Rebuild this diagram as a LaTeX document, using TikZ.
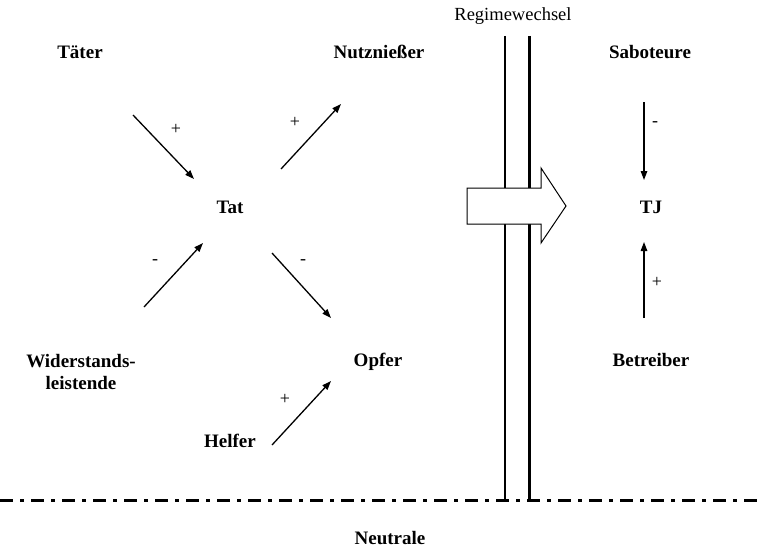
\documentclass[tikz,border=0pt]{standalone}
\usepackage{fontspec}
\setmainfont{Liberation Serif}
\usetikzlibrary{arrows.meta}
\tikzset{lbl/.style={font=\fontsize{19}{22}\selectfont\bfseries,align=center,inner sep=0pt},
sgn/.style={font=\fontsize{18}{20}\selectfont,inner sep=0pt},
arr/.style={line width=1.3pt,-{Triangle[length=9pt,width=6.5pt]}}}
\begin{document}
\begin{tikzpicture}[x=1pt,y=-1pt]
\useasboundingbox(0,0)rectangle(762,551);
\node[lbl](taeter)at(80,52){Täter};\node[lbl](nutz)at(379,52){Nutznießer};\node[lbl](sab)at(650,52){Saboteure};
\node[lbl](tat)at(230,207){Tat};\node[lbl](tj)at(651,207){TJ};
\node[lbl](wid)at(81,372){Widerstands-\\leistende};\node[lbl](opfer)at(378,362){Opfer};\node[lbl](betr)at(651,360){Betreiber};
\node[lbl](helfer)at(230,441){Helfer};\node[lbl](neutr)at(390,538){Neutrale};
\node[sgn](regime)at(513,16){\fontsize{18.5}{20}\selectfont\mdseries Regimewechsel};
% Pfeile um die Tat
\coordinate(a1)at(133,115);\coordinate(b1)at(194,179);\draw[arr](a1)--(b1);\node[sgn](s1)at(176,129){+};
\coordinate(a2)at(281,169);\coordinate(b2)at(341,104);\draw[arr](a2)--(b2);\node[sgn](s2)at(295,122){+};
\coordinate(a3)at(144,307);\coordinate(b3)at(203,243);\draw[arr](a3)--(b3);\node[sgn](s3)at(155,262){-};
\coordinate(a4)at(272,253);\coordinate(b4)at(331,318);\draw[arr](a4)--(b4);\node[sgn](s4)at(303,262){-};
\coordinate(a5)at(272,445);\coordinate(b5)at(331,381);\draw[arr](a5)--(b5);\node[sgn](s5)at(285,399){+};
\coordinate(a6)at(644,102);\coordinate(b6)at(644,180);\draw[arr](a6)--(b6);\node[sgn](s6)at(655,124){-};
\coordinate(a7)at(644,318);\coordinate(b7)at(644,242);\draw[arr](a7)--(b7);\node[sgn](s7)at(657,282){+};
% Regimewechsel
\draw[line width=1.2pt](505,36)--(505,499);\draw[line width=3pt](529,36)--(529,499);
\draw[line width=3pt,dash pattern=on 13pt off 7pt on 4pt off 7pt](0,500)--(762,500);
\draw[line width=1pt,fill=white](467,188)--(541,188)--(541,168)--(566,206)--(541,243)--(541,224)--(467,224)--cycle;
\end{tikzpicture}
\end{document}
